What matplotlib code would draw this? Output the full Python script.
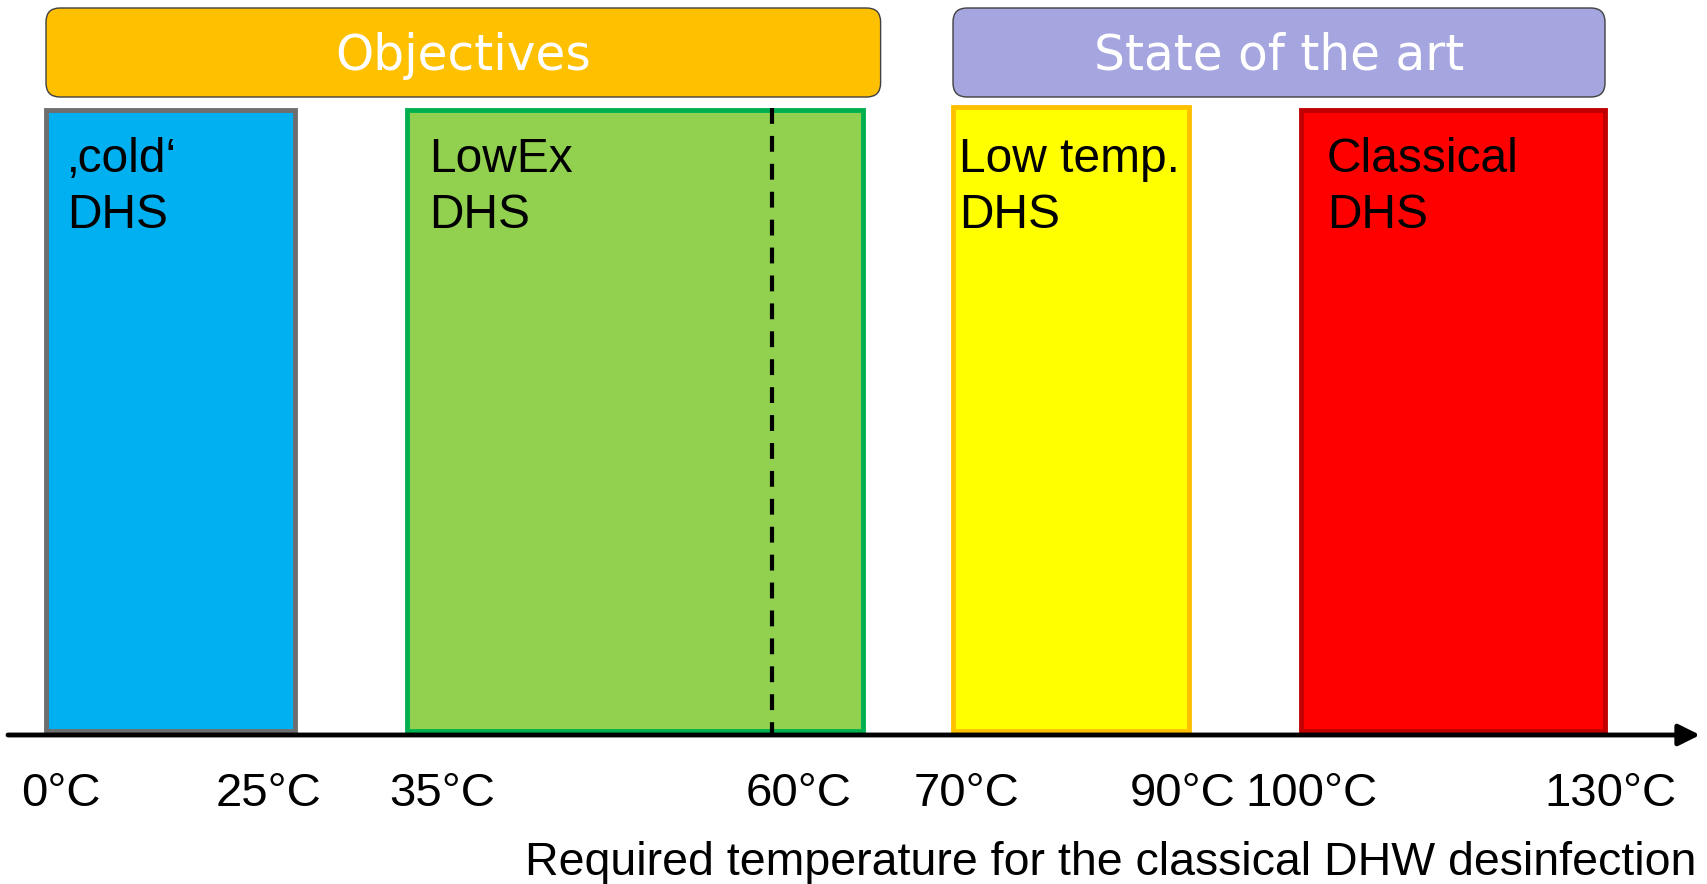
import numpy as np
import matplotlib.pyplot as plt
from matplotlib.patches import FancyBboxPatch, Rectangle

# temperatures on the axis and where each one sits along the drawn axis (px)
temps = [0, 25, 35, 60, 70, 90, 100, 130]
tick_labels = ["0°C", "25°C", "35°C", "60°C", "70°C", "90°C", "100°C", "130°C"]
axis_pos = [46, 295, 407, 772, 953, 1189, 1301, 1605]
label_shift = [15, -26, 35, 27, 13, -6, 10, 5]

# temperature bands
band_names = ["\u201acold\u2018\nDHS", "LowEx\nDHS", "Low temp.\nDHS", "Classical\nDHS"]
band_lo = [0, 35, 70, 100]
band_hi = [25, 65, 90, 130]
band_fill = ["#00B0F0", "#92D050", "#FFFF00", "#FF0000"]
band_edge = ["#6E6E6E", "#00B050", "#FFC000", "#C00000"]
band_text_dx = [21, 22, 6, 26]
band_top = [110, 110, 107, 110]

# groups above the bands
group_names = ["Objectives", "State of the art"]
group_lo = [0, 70]
group_hi = [66, 130]
group_fill = ["#FFC000", "#A5A5DF"]

desinfection_temp = 60
xlabel = "Required temperature for the classical DHW desinfection"

def tx(t):
    return np.interp(t, temps, axis_pos)

W, H = 1707, 884
fig = plt.figure(figsize=(W / 100, H / 100), dpi=100)
ax = fig.add_axes([0, 0, 1, 1])
ax.set_xlim(0, W)
ax.set_ylim(H, 0)
ax.axis("off")

axis_y = 735
line_base = [172, 228]

for name, lo, hi, fc, ec, dx, top in zip(band_names, band_lo, band_hi, band_fill,
                                          band_edge, band_text_dx, band_top):
    x0, x1 = tx(lo), tx(hi)
    ax.add_patch(Rectangle((x0, top), x1 - x0, axis_y - 4 - top, facecolor=fc,
                           edgecolor=ec, lw=3.5, zorder=2))
    for line, yb in zip(name.split("\n"), line_base):
        ax.text(x0 + dx, yb, line, fontsize=34.5, family="Liberation Sans",
                va="baseline", ha="left", zorder=4)

for name, lo, hi, fc in zip(group_names, group_lo, group_hi, group_fill):
    x0, x1 = tx(lo), tx(hi)
    ax.add_patch(FancyBboxPatch((x0, 8), x1 - x0, 89,
                                boxstyle="round,pad=0,rounding_size=14",
                                facecolor=fc, edgecolor="#404040", lw=1, zorder=2))
    ax.text((x0 + x1) / 2, 70, name, fontsize=35, family="DejaVu Sans",
            color="white", ha="center", va="baseline", zorder=4)

# dashed marker for the desinfection temperature
ax.plot([tx(desinfection_temp)] * 2, [108, axis_y], color="black", lw=3,
        ls=(0, (3.8, 2.9)), zorder=3)

# temperature axis
ax.annotate("", xy=(1700, axis_y), xytext=(8, axis_y),
            arrowprops=dict(arrowstyle="-|>", lw=3.5, color="black",
                            mutation_scale=32, shrinkA=0, shrinkB=0), zorder=5)

for t, lab, s in zip(temps, tick_labels, label_shift):
    ax.text(tx(t) + s, 806, lab, fontsize=34, family="Liberation Sans",
            ha="center", va="baseline")

ax.text(1111, 875, xlabel, fontsize=33.5, family="Liberation Sans",
        ha="center", va="baseline")

fig.savefig("out.png", dpi=100)
